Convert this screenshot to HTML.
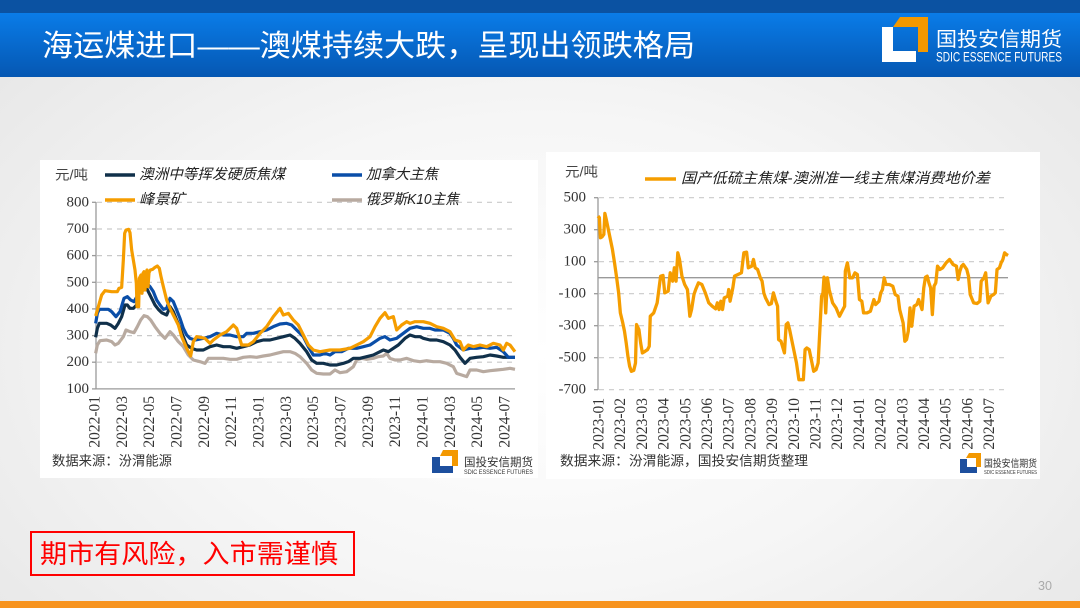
<!DOCTYPE html>
<html><head><meta charset="utf-8"><style>
html,body{margin:0;padding:0;width:1080px;height:608px;overflow:hidden;}
body{background:radial-gradient(ellipse 75% 85% at 50% 58%, #ffffff 0%, #f6f6f6 45%, #e3e3e3 100%);}
svg{display:block;}
</style></head><body>
<svg width="1080" height="608" viewBox="0 0 1080 608" xmlns="http://www.w3.org/2000/svg" font-family="'Liberation Sans','Noto Sans CJK SC',sans-serif">
<defs>
<linearGradient id="hb" x1="0" y1="0" x2="0" y2="1"><stop offset="0" stop-color="#0a7ce8"/><stop offset="1" stop-color="#0557b2"/></linearGradient>
</defs>
<!-- header -->
<rect x="0" y="0" width="1080" height="13" fill="#0b52a2"/>
<rect x="0" y="13" width="1080" height="64" fill="url(#hb)"/>
<text x="42" y="56" font-size="30" fill="#fff" textLength="653" lengthAdjust="spacingAndGlyphs">海运煤进口——澳煤持续大跌，呈现出领跌格局</text>
<rect x="882" y="27" width="11" height="35" fill="#fff"/>
<rect x="882" y="51" width="34" height="11" fill="#fff"/>
<polygon points="900,17 928,17 928,52 918,52 918,27 893,27" fill="#f39800"/>
<text x="936" y="46" font-size="20" fill="#fff" textLength="126" lengthAdjust="spacingAndGlyphs">国投安信期货</text>
<text x="936" y="61.5" font-size="14" fill="#fff" textLength="126" lengthAdjust="spacingAndGlyphs">SDIC ESSENCE FUTURES</text>

<!-- panels -->
<rect x="40" y="160" width="498" height="318" fill="#fff"/>
<rect x="546" y="152" width="494" height="327" fill="#fff"/>

<!-- LEFT CHART -->
<g stroke="#c9c9c9" stroke-width="1.2" stroke-dasharray="5,5">
<line x1="97" y1="202.3" x2="515" y2="202.3"/>
<line x1="97" y1="229" x2="515" y2="229"/>
<line x1="97" y1="255.6" x2="515" y2="255.6"/>
<line x1="97" y1="282.3" x2="515" y2="282.3"/>
<line x1="97" y1="308.9" x2="515" y2="308.9"/>
<line x1="97" y1="335.6" x2="515" y2="335.6"/>
<line x1="97" y1="362.2" x2="515" y2="362.2"/>
</g>
<g stroke="#9a9a9a" stroke-width="1.3">
<line x1="96" y1="202" x2="96" y2="389"/>
<line x1="96" y1="388.9" x2="515" y2="388.9"/>
<line x1="92" y1="202.3" x2="96" y2="202.3"/>
<line x1="92" y1="229" x2="96" y2="229"/>
<line x1="92" y1="255.6" x2="96" y2="255.6"/>
<line x1="92" y1="282.3" x2="96" y2="282.3"/>
<line x1="92" y1="308.9" x2="96" y2="308.9"/>
<line x1="92" y1="335.6" x2="96" y2="335.6"/>
<line x1="92" y1="362.2" x2="96" y2="362.2"/>
<line x1="92" y1="388.9" x2="96" y2="388.9"/>
</g>
<g font-family="'Liberation Serif',serif" font-size="15" fill="#333" text-anchor="end" dominant-baseline="central">
<text x="89" y="202.3">800</text>
<text x="89" y="229">700</text>
<text x="89" y="255.6">600</text>
<text x="89" y="282.3">500</text>
<text x="89" y="308.9">400</text>
<text x="89" y="335.6">300</text>
<text x="89" y="362.2">200</text>
<text x="89" y="388.9">100</text>
</g>
<g font-family="'Liberation Serif',serif" font-size="15.5" fill="#333" text-anchor="end" dominant-baseline="central">
<text transform="translate(95,396) rotate(-90)">2022-01</text>
<text transform="translate(122.3,396) rotate(-90)">2022-03</text>
<text transform="translate(149.7,396) rotate(-90)">2022-05</text>
<text transform="translate(177,396) rotate(-90)">2022-07</text>
<text transform="translate(204.3,396) rotate(-90)">2022-09</text>
<text transform="translate(231.7,396) rotate(-90)">2022-11</text>
<text transform="translate(259,396) rotate(-90)">2023-01</text>
<text transform="translate(286.3,396) rotate(-90)">2023-03</text>
<text transform="translate(313.6,396) rotate(-90)">2023-05</text>
<text transform="translate(341,396) rotate(-90)">2023-07</text>
<text transform="translate(368.3,396) rotate(-90)">2023-09</text>
<text transform="translate(395.6,396) rotate(-90)">2023-11</text>
<text transform="translate(423,396) rotate(-90)">2024-01</text>
<text transform="translate(450.3,396) rotate(-90)">2024-03</text>
<text transform="translate(477.6,396) rotate(-90)">2024-05</text>
<text transform="translate(505,396) rotate(-90)">2024-07</text>
</g>
<text x="55" y="175" font-size="13.5" fill="#444" dominant-baseline="central" textLength="33" lengthAdjust="spacingAndGlyphs">元/吨</text>
<!-- legend -->
<g stroke-width="3.5" fill="none">
<line x1="105" y1="175" x2="135" y2="175" stroke="#10304a"/>
<line x1="332" y1="175" x2="362" y2="175" stroke="#0a4ea8"/>
<line x1="105" y1="200" x2="135" y2="200" stroke="#f59d00"/>
<line x1="332" y1="200" x2="362" y2="200" stroke="#b8aaa0"/>
</g>
<g font-size="14.5" fill="#222" font-style="italic" dominant-baseline="central">
<text x="139" y="175" textLength="146" lengthAdjust="spacingAndGlyphs">澳洲中等挥发硬质焦煤</text>
<text x="366" y="175" textLength="72" lengthAdjust="spacingAndGlyphs">加拿大主焦</text>
<text x="139" y="200" textLength="46" lengthAdjust="spacingAndGlyphs">峰景矿</text>
<text x="366" y="200" textLength="93" lengthAdjust="spacingAndGlyphs">俄罗斯K10主焦</text>
</g>
<!-- series -->
<g transform="translate(40,150) scale(0.33333)" fill="none" stroke-width="3.2" stroke-linejoin="round">
<polyline vector-effect="non-scaling-stroke" stroke="#b8aaa0" points="167,610 172,585 180,572 200,570 215,575 225,585 235,580 250,560 258,540 270,545 282,548 292,530 302,510 312,497 322,500 332,510 345,530 360,550 375,565 390,545 400,555 415,575 430,590 445,615 460,630 480,635 495,640 505,625 525,625 550,625 570,628 590,628 610,622 630,620 650,622 670,618 690,615 710,610 730,605 750,605 765,610 780,620 800,640 815,660 830,670 850,672 870,672 885,660 900,668 920,665 940,650 950,630 965,625 980,628 1000,625 1015,620 1030,618 1040,610 1050,625 1065,630 1080,630 1100,625 1120,632 1140,635 1160,632 1180,635 1200,635 1220,640 1240,650 1250,670 1265,675 1280,680 1290,660 1310,660 1330,665 1350,662 1370,660 1390,658 1410,655 1425,658"/>
<polyline vector-effect="non-scaling-stroke" stroke="#10304a" points="167,562 172,535 178,520 200,520 212,525 225,535 235,520 245,500 255,465 262,465 270,475 280,475 290,465 295,420 300,410 310,420 318,410 325,425 335,445 345,465 355,478 365,488 380,495 390,470 400,485 410,510 420,535 430,560 440,585 455,595 470,600 490,600 510,590 530,585 550,590 570,590 590,595 610,590 630,585 650,575 670,570 690,570 710,565 730,560 750,555 765,565 780,580 800,605 815,630 830,640 850,640 870,645 890,645 910,640 925,635 940,625 960,625 980,620 1000,615 1020,605 1030,600 1045,605 1060,595 1075,585 1095,565 1110,555 1125,560 1140,560 1150,565 1170,570 1190,570 1210,575 1230,585 1245,600 1260,622 1275,640 1290,625 1310,622 1330,620 1350,615 1370,618 1390,622 1405,622 1425,622"/>
<polyline vector-effect="non-scaling-stroke" stroke="#0a4ea8" points="167,520 172,490 178,478 205,478 215,485 228,500 240,485 252,445 262,440 272,450 282,455 292,438 298,405 310,410 320,400 330,410 340,425 350,450 360,465 370,478 380,475 390,445 400,455 410,480 420,505 430,535 440,555 450,565 465,570 490,565 510,560 530,550 550,555 570,555 590,560 610,560 620,550 640,550 660,545 680,540 700,530 720,522 740,520 755,525 770,540 790,560 805,590 820,615 840,615 855,610 870,615 885,605 905,605 925,595 950,595 970,590 990,585 1005,575 1020,565 1035,560 1050,570 1070,565 1090,550 1110,535 1130,530 1150,535 1170,535 1185,540 1210,540 1230,550 1240,565 1250,585 1270,600 1290,595 1310,595 1330,592 1350,595 1370,592 1390,605 1405,622 1425,622"/>
<polyline vector-effect="non-scaling-stroke" stroke="#f59d00" points="167,498 175,470 185,435 195,422 215,425 232,425 237,415 245,412 250,330 254,250 258,240 266,238 270,248 275,300 280,330 285,360 289,400 291,470 296,470 298,385 303,375 306,430 309,370 312,365 315,420 318,375 321,360 324,410 327,368 331,360 338,358 345,352 352,348 358,355 363,380 370,410 380,450 390,475 400,495 405,505 415,525 425,560 440,595 452,618 460,575 470,560 495,565 510,580 520,570 540,555 560,545 580,525 590,535 605,585 625,585 640,575 660,550 680,530 700,500 720,475 730,495 745,490 760,510 775,525 790,555 805,585 820,600 840,605 870,600 900,600 930,595 950,585 970,575 990,560 1005,530 1020,505 1035,488 1045,505 1060,500 1070,540 1085,525 1100,515 1110,520 1125,515 1150,515 1170,520 1190,530 1210,535 1230,545 1245,570 1260,575 1270,600 1285,585 1300,590 1320,585 1340,590 1360,580 1380,585 1390,600 1400,580 1410,585 1425,605"/>
</g>
<text x="52" y="461" font-size="13.5" fill="#333" dominant-baseline="central" textLength="120" lengthAdjust="spacingAndGlyphs">数据来源：汾渭能源</text>
<!-- left small logo -->
<rect x="432" y="457" width="8" height="16" fill="#1d4f9e"/>
<rect x="432" y="466" width="21" height="7" fill="#1d4f9e"/>
<polygon points="443,450 458,450 458,466 452,466 452,456 440,456" fill="#f39800"/>
<text x="464" y="466" font-size="11.5" fill="#333" textLength="69" lengthAdjust="spacingAndGlyphs">国投安信期货</text>
<text x="464" y="474" font-size="6" fill="#333" textLength="69" lengthAdjust="spacingAndGlyphs">SDIC ESSENCE FUTURES</text>

<!-- RIGHT CHART -->
<g stroke="#c9c9c9" stroke-width="1.2" stroke-dasharray="5,5">
<line x1="599" y1="197.7" x2="1008" y2="197.7"/>
<line x1="599" y1="229.7" x2="1008" y2="229.7"/>
<line x1="599" y1="261.7" x2="1008" y2="261.7"/>
<line x1="599" y1="293.7" x2="1008" y2="293.7"/>
<line x1="599" y1="325.7" x2="1008" y2="325.7"/>
<line x1="599" y1="357.7" x2="1008" y2="357.7"/>
<line x1="599" y1="389.7" x2="1008" y2="389.7"/>
</g>
<g stroke="#9a9a9a" stroke-width="1.3">
<line x1="598" y1="197.5" x2="598" y2="390"/>
<line x1="598" y1="277.7" x2="1008" y2="277.7"/>
<line x1="594" y1="197.7" x2="598" y2="197.7"/>
<line x1="594" y1="229.7" x2="598" y2="229.7"/>
<line x1="594" y1="261.7" x2="598" y2="261.7"/>
<line x1="594" y1="293.7" x2="598" y2="293.7"/>
<line x1="594" y1="325.7" x2="598" y2="325.7"/>
<line x1="594" y1="357.7" x2="598" y2="357.7"/>
<line x1="594" y1="389.7" x2="598" y2="389.7"/>
</g>
<g font-family="'Liberation Serif',serif" font-size="15" fill="#333" text-anchor="end" dominant-baseline="central">
<text x="586" y="197.7">500</text>
<text x="586" y="229.7">300</text>
<text x="586" y="261.7">100</text>
<text x="586" y="293.7">-100</text>
<text x="586" y="325.7">-300</text>
<text x="586" y="357.7">-500</text>
<text x="586" y="389.7">-700</text>
</g>
<g font-family="'Liberation Serif',serif" font-size="15.5" fill="#333" text-anchor="end" dominant-baseline="central">
<text transform="translate(599,398) rotate(-90)">2023-01</text>
<text transform="translate(620.7,398) rotate(-90)">2023-02</text>
<text transform="translate(642.4,398) rotate(-90)">2023-03</text>
<text transform="translate(664.1,398) rotate(-90)">2023-04</text>
<text transform="translate(685.8,398) rotate(-90)">2023-05</text>
<text transform="translate(707.5,398) rotate(-90)">2023-06</text>
<text transform="translate(729.2,398) rotate(-90)">2023-07</text>
<text transform="translate(750.9,398) rotate(-90)">2023-08</text>
<text transform="translate(772.6,398) rotate(-90)">2023-09</text>
<text transform="translate(794.3,398) rotate(-90)">2023-10</text>
<text transform="translate(816,398) rotate(-90)">2023-11</text>
<text transform="translate(837.7,398) rotate(-90)">2023-12</text>
<text transform="translate(859.4,398) rotate(-90)">2024-01</text>
<text transform="translate(881.1,398) rotate(-90)">2024-02</text>
<text transform="translate(902.8,398) rotate(-90)">2024-03</text>
<text transform="translate(924.5,398) rotate(-90)">2024-04</text>
<text transform="translate(946.2,398) rotate(-90)">2024-05</text>
<text transform="translate(967.9,398) rotate(-90)">2024-06</text>
<text transform="translate(989.6,398) rotate(-90)">2024-07</text>
</g>
<text x="565" y="172" font-size="13.5" fill="#444" dominant-baseline="central" textLength="33" lengthAdjust="spacingAndGlyphs">元/吨</text>
<line x1="645" y1="179" x2="676" y2="179" stroke="#f59d00" stroke-width="3.5"/>
<text x="681" y="179" font-size="14.5" fill="#222" font-style="italic" dominant-baseline="central" textLength="309" lengthAdjust="spacingAndGlyphs">国产低硫主焦煤-澳洲准一线主焦煤消费地价差</text>
<g transform="matrix(0.344 0 0 0.3339 540.2 149.28)" fill="none">
<polyline vector-effect="non-scaling-stroke" stroke="#f59d00" stroke-width="3.3" stroke-linejoin="round" points="168,200 172,205 175,265 180,262 185,255 188,192 192,210 200,250 210,300 216,340 222,383 228,430 233,490 240,520 245,545 250,580 255,620 260,650 265,665 272,662 277,640 280,525 287,540 292,580 297,610 305,605 312,600 317,590 320,500 330,490 340,460 345,420 350,380 357,378 362,430 372,425 378,370 385,395 390,355 395,395 400,310 405,330 412,380 420,405 428,420 435,500 440,480 447,435 452,420 460,400 470,405 480,430 490,460 500,470 510,478 515,460 520,480 525,455 530,480 535,445 545,440 548,420 552,455 560,415 565,380 575,375 585,370 592,310 600,308 605,355 615,350 620,330 625,355 632,360 640,385 645,395 650,430 655,445 665,465 672,462 678,430 685,455 690,470 693,570 700,575 710,610 715,525 720,520 725,540 735,590 745,640 752,690 760,690 765,690 770,600 775,595 782,600 790,640 795,665 802,660 808,640 815,500 818,440 822,430 825,383 830,490 835,385 840,420 845,440 850,460 860,475 870,500 880,480 885,470 887,365 893,340 900,385 908,385 915,370 922,375 928,450 935,455 940,490 950,490 960,485 970,450 975,465 985,455 990,430 995,420 1000,385 1005,405 1015,405 1025,410 1032,435 1040,440 1045,480 1050,500 1055,520 1060,575 1065,570 1070,545 1075,475 1080,530 1087,470 1095,465 1100,450 1105,465 1110,480 1115,415 1120,383 1125,380 1130,400 1135,415 1140,495 1145,410 1150,400 1155,350 1162,360 1170,355 1180,340 1190,330 1200,345 1210,350 1215,390 1220,365 1225,350 1230,345 1240,360 1245,380 1250,435 1260,460 1270,462 1278,455 1282,395 1290,385 1295,370 1302,460 1310,440 1318,435 1323,430 1328,360 1335,355 1340,340 1345,330 1350,310 1355,315 1360,318"/>
</g>
<text x="560" y="461" font-size="13.5" fill="#333" dominant-baseline="central" textLength="248" lengthAdjust="spacingAndGlyphs">数据来源：汾渭能源，国投安信期货整理</text>
<!-- right small logo -->
<rect x="960" y="459" width="7" height="14" fill="#1d4f9e"/>
<rect x="960" y="467" width="17" height="6" fill="#1d4f9e"/>
<polygon points="969,453 981,453 981,467 976,467 976,458 966,458" fill="#f39800"/>
<text x="984" y="467" font-size="10" fill="#333" textLength="53" lengthAdjust="spacingAndGlyphs">国投安信期货</text>
<text x="984" y="474" font-size="5" fill="#333" textLength="53" lengthAdjust="spacingAndGlyphs">SDIC ESSENCE FUTURES</text>

<!-- risk box -->
<rect x="31" y="532" width="323" height="43" fill="none" stroke="#ff0000" stroke-width="2"/>
<text x="40" y="563" font-size="26" fill="#ff0000" textLength="298" lengthAdjust="spacingAndGlyphs">期市有风险，入市需谨慎</text>
<text x="1038" y="590" font-size="13" fill="#aaa" textLength="14" lengthAdjust="spacingAndGlyphs">30</text>
<rect x="0" y="601" width="1080" height="7" fill="#f7931e"/>
</svg>
</body></html>
